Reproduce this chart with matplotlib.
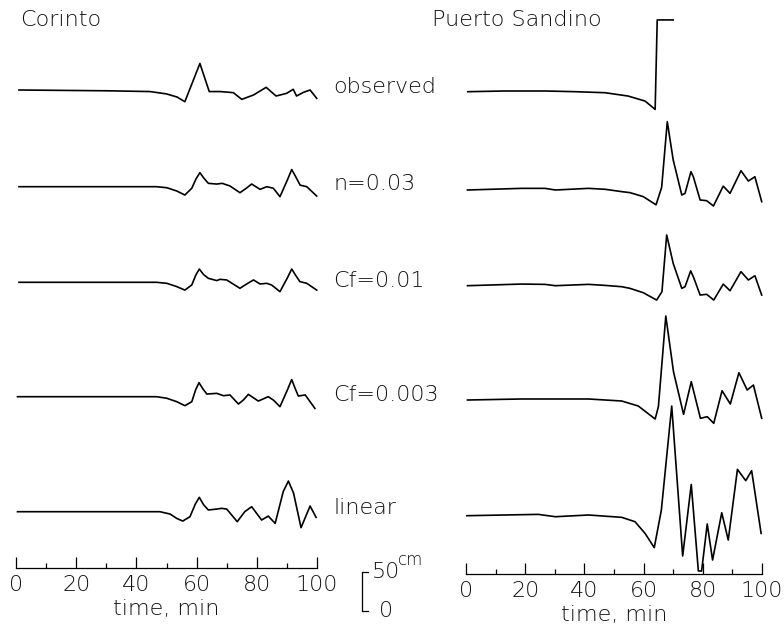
import matplotlib
matplotlib.use("Agg")
import matplotlib.pyplot as plt
import numpy as np
from matplotlib.ticker import MultipleLocator

# ---------------- data: sea level (cm) versus time (min) ----------------
# Corinto
cor_obs_t = [1, 30, 44.5, 50, 53.5, 56.1, 61.1, 64.2, 67.8, 72.2, 75.0, 78.9, 83.1,
             86.4, 89.9, 92.1, 93.2, 95.5, 97.7, 99.9]
cor_obs_h = [0, -1, -2, -5, -9, -15, 34, -2, -2, -3.4, -12, -6.4, 3.4,
             -7.7, -4.3, 0.9, -7.7, -3, 0, -10.7]

cor_n003_t = [1, 40, 46.7, 50.1, 53.4, 56.1, 58.4, 59.8, 61.1, 62.4, 63.9, 66.7, 68.5,
              71.1, 74.4, 76.5, 78.3, 81.1, 83.3, 85.5, 87.7, 90.2, 91.6, 92.9, 94.4,
              96.6, 99.9]
cor_n003_h = [0, 0, 0, -1.3, -5.5, -10.7, -2, 10, 18, 11, 4.3, 3.4, 4.3,
              0.9, -7.7, -2, 3.4, -3.4, 0, -2, -12.8, 9, 22, 13, 2,
              0, -12]

cor_cf001_t = [1, 40, 46.7, 50.1, 53.4, 56.1, 58.4, 59.7, 60.9, 62.3, 63.9, 66.7, 67.8,
               70.0, 74.4, 76.7, 78.9, 81.1, 83.3, 84.9, 87.7, 90.2, 91.6, 92.9, 94.3,
               96.6, 99.9]
cor_cf001_h = [0, 0, 0, -1.3, -5.5, -10, -3.4, 9, 17, 10, 5.1, 2.2, 3.8,
               3, -7.7, -2, 3, -2.2, -1.3, -3.4, -12, 6, 17, 9, 0.9,
               -1.3, -10]

cor_cf0003_t = [0.5, 40, 46.7, 50.1, 53.4, 56.1, 58.4, 59.7, 60.8, 62.1, 63.4, 66.7, 68.9,
                71.1, 73.9, 75.6, 77.2, 80.5, 83.8, 85.5, 87.7, 90.2, 91.6, 92.8, 93.8,
                96.1, 99.3]
cor_cf0003_h = [0, 0, 0, -2, -6.4, -11.5, -6.4, 9, 18, 10, 3.4, 4.3, 1.3,
                2.2, -9.4, -4, 3, -5.6, 0, -4.3, -12.8, 9, 22, 10, 0.9,
                2.2, -15]

cor_lin_t = [0.5, 40, 47.8, 51.2, 53.4, 55.4, 57.8, 59.6, 60.9, 62.3, 63.9, 66.7, 68.3,
             70.0, 73.5, 76.0, 78.3, 81.6, 83.8, 86.1, 88.8, 90.5, 92.2, 94.7, 97.7, 99.7]
cor_lin_h = [0, 0, 0, -3, -8.6, -12, -6.4, 10, 18.4, 9, 2.2, 3.4, 4.3,
             3.4, -12.8, 0, 6.4, -10.7, -5.6, -15, 26, 39.3, 24, -20.5, 7.3, -7.3]

# Puerto Sandino
ps_obs_t = [0.6, 13, 27, 37, 47, 54.8, 60.5, 63.9, 64.6, 70.0]
ps_obs_h = [0, 0.9, 0.9, 0, -1.3, -5.6, -12, -22.7, 92, 92]

ps_n003_t = [0.5, 18.8, 26.7, 30.2, 41.4, 47, 52.6, 55.4, 59.9, 64.2, 66.1, 68.0, 70.0,
             72.9, 74.0, 76.0, 76.8, 79.1, 81.3, 83.6, 86.9, 89.2, 92.9, 95.4, 97.6, 99.9]
ps_n003_h = [0, 2.1, 2.1, 0, 2.1, 0.9, -2.1, -3.4, -8.5, -19, 3.4, 87.6, 38.5,
             -6.4, -4.3, 23.5, 17, -12.8, -13.7, -20.5, 5, -4.3, 24.7, 11.5, 17, -15]

ps_cf001_t = [0.5, 18.8, 26.7, 30.2, 41.4, 47, 52.6, 55.4, 59.9, 64.4, 66.2, 67.8, 70.0,
              72.9, 74.0, 75.9, 76.8, 79.1, 81.3, 83.7, 86.9, 89.2, 92.9, 95.4, 97.6, 99.9]
ps_cf001_h = [0, 2.1, 1.7, 0, 1.7, 0.4, -1.3, -3.4, -9, -18.4, -7.7, 65, 28.6,
              -3.4, -1.3, 19, 11.5, -12, -11, -18.4, 2, -6.4, 18, 7.3, 12.8, -12]

ps_cf0003_t = [0.5, 18.8, 27, 41.4, 52.6, 58.2, 63.9, 65.0, 67.5, 70.1, 73.5, 76.1, 79.2,
               81.5, 83.7, 86.5, 89.3, 92.2, 95.0, 97.1, 99.9]
ps_cf0003_h = [0, 1.3, 1.3, 1.3, -1.3, -7.7, -24.4, -8.5, 107.7, 36.3, -18.4, 23.5, -23.5,
               -21.4, -29.9, 11.9, -5.1, 35, 12.8, 19.2, -23.5]

ps_lin_t = [0.3, 24.4, 30.2, 41.4, 52.6, 57.1, 60.5, 63.6, 66.0, 69.5, 73.2, 76.1, 78.5,
            79.6, 81.5, 83.3, 86.4, 88.6, 91.7, 94.5, 96.5, 99.7]
ps_lin_h = [0, 1.7, -1.3, 0.9, -2.1, -7.7, -22.7, -41, 7.3, 140.6, -51.7, 40.1, -70.9,
            -70.9, -10.6, -56.8, 3.8, -31.2, 59.4, 44.9, 57.7, -22.7]

run_labels = ["observed", "n=0.03", "Cf=0.01", "Cf=0.003", "linear"]
station_names = ["Corinto", "Puerto Sandino"]
time_ticks = [0, 20, 40, 60, 80, 100]
scale_cm = 50

# ---------------- figure ----------------
W, H, DPI = 784, 626, 100
PX_PER_CM = 0.78
plt.rcParams["font.family"] = ["DejaVu Sans"]
plt.rcParams["font.weight"] = "light"
plt.rcParams["axes.labelweight"] = "light"
FS = 16
TXT = "#111111"

fig = plt.figure(figsize=(W / DPI, H / DPI), dpi=DPI)


def make_panel(x0_px, x1_px, axis_y_px):
    ax = fig.add_axes([x0_px / W, (H - axis_y_px) / H,
                       (x1_px - x0_px) / W, axis_y_px / H])
    ax.set_xlim(0, 100)
    ax.set_ylim(0, axis_y_px / PX_PER_CM)
    ax.patch.set_visible(False)
    for side in ("top", "left", "right"):
        ax.spines[side].set_visible(False)
    ax.spines["bottom"].set_linewidth(0.9)
    ax.yaxis.set_visible(False)
    ax.set_xticks(time_ticks)
    ax.xaxis.set_minor_locator(MultipleLocator(10))
    ax.tick_params(axis="x", which="major", direction="in", length=8,
                   width=0.9, pad=5, labelsize=FS, labelcolor=TXT)
    ax.tick_params(axis="x", which="minor", direction="in", length=3.5, width=0.9)
    ax.set_xlabel("time, min", fontsize=FS, labelpad=3, fontweight="light",
                  color=TXT)
    return ax


def baseline(axis_y_px, trace_y_px):
    return (axis_y_px - trace_y_px) / PX_PER_CM


LEFT_AXIS_Y = 568
RIGHT_AXIS_Y = 574
ax_l = make_panel(16, 317, LEFT_AXIS_Y)
ax_r = make_panel(466, 762, RIGHT_AXIS_Y)

left_rows = [90, 186.7, 282.3, 396.7, 511.7]
right_rows = [91.7, 190, 285.7, 400, 515.7]

cor = [(cor_obs_t, cor_obs_h), (cor_n003_t, cor_n003_h), (cor_cf001_t, cor_cf001_h),
       (cor_cf0003_t, cor_cf0003_h), (cor_lin_t, cor_lin_h)]
ps = [(ps_obs_t, ps_obs_h), (ps_n003_t, ps_n003_h), (ps_cf001_t, ps_cf001_h),
      (ps_cf0003_t, ps_cf0003_h), (ps_lin_t, ps_lin_h)]

for (t, h), row in zip(cor, left_rows):
    ax_l.plot(t, baseline(LEFT_AXIS_Y, row) + np.asarray(h), color="black",
              lw=1.2, clip_on=False, solid_joinstyle="round")
for (t, h), row in zip(ps, right_rows):
    ax_r.plot(t, baseline(RIGHT_AXIS_Y, row) + np.asarray(h), color="black",
              lw=1.2, clip_on=False, solid_joinstyle="round")

# run labels between the two panels
label_y = [87, 184, 281, 395, 508]
for lab, y in zip(run_labels, label_y):
    fig.text(333 / W, 1 - y / H, lab, fontsize=FS, va="center", ha="left", color=TXT)

# station names
fig.text(20 / W, 1 - 20 / H, station_names[0], fontsize=FS, va="center", ha="left",
         color=TXT)
fig.text(432 / W, 1 - 20 / H, station_names[1], fontsize=FS, va="center", ha="left",
         color=TXT)

# vertical scale bar drawn in the Corinto panel's cm units
sb_t = (362 - 16) / 3.01
sb_y0 = (LEFT_AXIS_Y - 611) / PX_PER_CM
ax_l.plot([sb_t + 2, sb_t, sb_t, sb_t + 2],
          [sb_y0, sb_y0, sb_y0 + scale_cm, sb_y0 + scale_cm],
          color="black", lw=0.9, clip_on=False)
ax_l.text(sb_t + 3.3, sb_y0 + scale_cm, f"{scale_cm}", fontsize=FS,
          va="center", ha="left", clip_on=False, color=TXT)
ax_l.text(sb_t + 12.0, sb_y0 + scale_cm + 16, "cm", fontsize=12,
          va="center", ha="left", clip_on=False, color=TXT)
ax_l.text(sb_t + 5.5, sb_y0, "0", fontsize=FS, va="center", ha="left",
          clip_on=False, color=TXT)

fig.savefig("out.png", dpi=DPI)
